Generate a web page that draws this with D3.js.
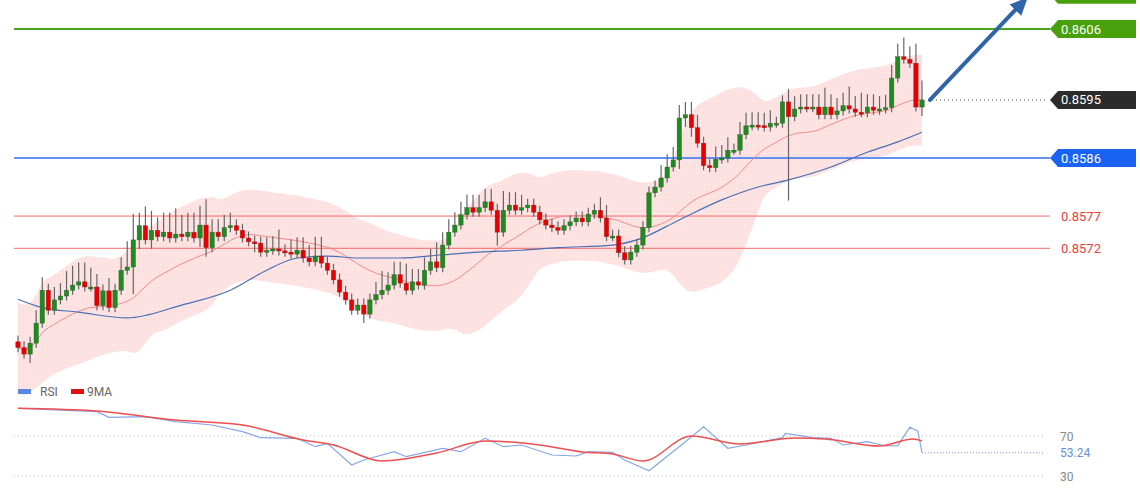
<!DOCTYPE html>
<html><head><meta charset="utf-8">
<script src="https://cdn.jsdelivr.net/npm/d3@7"></script>
<style>body{margin:0;background:#fff;font-family:Roboto,Arial,sans-serif}</style>
</head><body><svg id="c" width="1140" height="500"></svg>
<script>
const firstOpen = 0.85575;
const closes = [
.85566,.85556,.85573,.85604,.85655,.85624,.85640,.85646,.85655,.85663,
.85668,.85660,.85660,.85631,.85654,.85628,.85655,.85686,.85691,.85733,
.85755,.85733,.85748,.85738,.85745,.85736,.85742,.85738,.85745,.85736,
.85756,.85721,.85745,.85738,.85752,.85755,.85748,.85736,.85730,.85728,
.85714,.85717,.85719,.85716,.85714,.85711,.85717,.85705,.85699,.85708,
.85697,.85686,.85671,.85652,.85640,.85624,.85632,.85618,.85640,.85648,
.85655,.85663,.85679,.85666,.85655,.85668,.85663,.85686,.85699,.85690,
.85725,.85745,.85756,.85772,.85783,.85776,.85783,.85792,.85779,.85745,
.85779,.85787,.85779,.85783,.85787,.85776,.85764,.85756,.85752,.85748,
.85755,.85761,.85767,.85761,.85773,.85779,.85767,.85738,.85739,.85713,
.85702,.85714,.85725,.85752,.85806,.85815,.85829,.85846,.85857,.85922,
.85927,.85907,.85883,.85848,.85845,.85858,.85860,.85872,.85872,.85896,
.85910,.85911,.85910,.85908,.85914,.85914,.85947,.85924,.85936,.85939,
.85938,.85939,.85927,.85939,.85927,.85933,.85941,.85936,.85931,.85930,
.85939,.85934,.85936,.85938,.85984,.86017,.86013,.86007,.85939,.85950];
const wickUpPips = [
1,1,1,2,2,1,2,2,3,3, 3,3,3,2,1,2,1,2,4,4, 2,3,3,2,3,3,4,3,3,3, 3,4,2,2,2,2,1,1,1,1,
1,2,2,3,1,2,2,2,2,3, 3,1,1,1,1,1,1,1,1,2, 3,2,2,2,3,2,2,2,2,3, 2,2,2,2,2,2,2,2,2,1,
3,2,2,2,1,1,1,1,1,1, 1,1,1,1,1,1,2,2,1,1, 1,1,1,1,1,1,2,2,2,2, 2,2,2,1,1,2,2,2,1,2,
2,2,2,2,2,1,1,2,2,2, 2,2,2,3,2,2,2,3,2,3, 2,2,2,2,2,2,3,2,3,3];
const wickDnPips = [
1,1,2,1,1,1,1,1,1,1, 1,1,1,1,1,1,1,1,1,6, 2,1,2,1,1,1,1,1,1,1, 2,2,1,1,1,1,1,1,1,2,
1,1,1,1,1,1,1,1,1,1, 1,1,1,1,1,1,1,2,1,1, 1,1,1,1,1,1,1,1,1,1, 1,1,1,1,1,1,1,1,1,3,
1,1,1,1,1,1,1,1,1,1, 1,1,1,1,1,1,1,1,1,1, 1,1,1,1,1,1,1,1,1,2, 2,2,1,1,1,1,1,1,1,1,
1,1,1,1,1,1,1,13,1,1, 1,1,1,1,1,1,1,1,1,1, 1,1,1,1,1,1,1,1,1,2];
const slowMaIdx = [0,4,10,18,27,35,41,46,51,56,63,70,76,83,89,98,102,109,116,122,127,134,140,145,149];
const slowMaVal = [.85641,.85628,.85621,.85612,.85632,.85655,.85686,.85705,.85708,.85705,.85705,.85710,.85714,.85717,.85721,.85725,.85733,.85764,.85795,.85815,.85826,.85846,.85869,.85885,.85900];
const rsiIdx = [0,13,15,21,26,32,37,40,46,49,51,55,57,62,64,70,73,77,80,83,88,92,94,98,100,104,110,113,117,120,126,126.5,131,134,136,140,143,145,147,148.3,149];
const rsiVal = [97.7,94.3,88.7,89.3,84.3,81,74.3,68.3,67.7,59.3,62.7,41,46,54.3,49.3,57.7,54.3,67.7,59.3,61,51,50,54.3,53.7,46,35.3,64.3,79.3,57.7,61,68.3,72.7,68.3,67.7,61,64.3,60,60.3,78.7,75,53.24];
const maIdx = [0,13,26,37,47,52,60,69,77,86,93,98,103,111,119,128,133,142,147.5,149];
const maVal = [97.7,95,86,81,66,61,45,53,65,61,54,52,45,70,62,68,67,60,67,65];
const levels = [
 {v:0.86113, kind:'green', hidden:true},{v:0.8606, kind:'green'},{v:0.8595, kind:'current'},
 {v:0.8586, kind:'blue'},{v:0.8577, kind:'red'},{v:0.8572, kind:'red'}];
const rsiLevels = [70,30];

const svg = d3.select('#c');
const x = d3.scaleLinear().domain([0,149]).range([18,922]);
const y = d3.scaleLinear().domain([0.8606,0.8586]).range([29,158]);
const yr = d3.scaleLinear().domain([70,30]).range([436,476]);
const pip = 0.0001;

const candles = closes.map((c,i)=>{
  const o = i===0?firstOpen:closes[i-1];
  return {i,o,c,h:Math.max(o,c)+wickUpPips[i]*pip,l:Math.min(o,c)-wickDnPips[i]*pip*0.7};
});
candles[127].l = Math.min(candles[127].o,candles[127].c)-wickDnPips[127]*pip;
const bb = closes.map((c,i)=>{
  const w = closes.slice(Math.max(0,i-19), i+1);
  const m = d3.mean(w), sd = Math.max(d3.deviation(w)||0, 0.00035);
  return {i,m,u:m+2*sd,d:m-2*sd};
});

const defs = svg.append('defs');
const pat = defs.append('pattern').attr('id','dots').attr('width',4).attr('height',4).attr('patternUnits','userSpaceOnUse');
pat.append('rect').attr('width',4).attr('height',4).attr('fill','#fde0e0');
pat.append('circle').attr('cx',1).attr('cy',1).attr('r',0.6).attr('fill','#fff');

svg.append('path').datum(bb).attr('fill','url(#dots)')
  .attr('d',d3.area().x(d=>x(d.i)).y0(d=>y(d.d)).y1(d=>y(d.u)).curve(d3.curveBasis));

const lv = svg.append('g');
levels.forEach(L=>{
  const yy = y(L.v);
  if(L.kind==='current'){
    lv.append('line').attr('x1',x(149)+6).attr('x2',1048).attr('y1',yy).attr('y2',yy).attr('stroke','#555').attr('stroke-dasharray','1,3');
  } else if(!L.hidden){
    const col = {green:'#4aa31a',blue:'#4a80f0',red:'#f36a6a'}[L.kind];
    lv.append('line').attr('x1',14).attr('x2',1050).attr('y1',yy).attr('y2',yy).attr('stroke',col).attr('stroke-width',L.kind==='red'?1:2).attr('opacity',L.kind==='blue'?0.85:1);
  }
  const box = {green:'#48a10c',blue:'#1a63f2',current:'#2b2b2b'}[L.kind];
  if(box){
    lv.append('path').attr('fill',box)
      .attr('d',`M1050,${yy} L1058,${yy-9} L1136,${yy-9} L1136,${yy+9} L1058,${yy+9} Z`);
  }
  if(!L.hidden) lv.append('text').attr('x',1061).attr('y',yy+4.5).attr('font-size',13)
    .attr('fill',L.kind==='red'?'#f04040':'#fff').text(L.v.toFixed(4));
});

svg.append('path').datum(bb).attr('fill','none').attr('stroke','#f28b8b').attr('stroke-width',1)
  .attr('d',d3.line().x(d=>x(d.i)).y(d=>y(d.m)).curve(d3.curveBasis));
svg.append('path').datum(slowMaIdx.map((d,k)=>[d,slowMaVal[k]])).attr('fill','none').attr('stroke','#4a6fb5').attr('stroke-width',1.2)
  .attr('d',d3.line().x(d=>x(d[0])).y(d=>y(d[1])).curve(d3.curveMonotoneX));

const cg = svg.append('g');
candles.forEach(d=>{
  const up = d.c>=d.o;
  cg.append('line').attr('x1',x(d.i)).attr('x2',x(d.i)).attr('y1',y(d.h)).attr('y2',y(d.l)).attr('stroke','#666').attr('stroke-width',1.2);
  const top = y(Math.max(d.o,d.c)), bot = y(Math.min(d.o,d.c));
  cg.append('rect').attr('x',x(d.i)-2.2).attr('width',4.4).attr('y',top).attr('height',Math.max(2,bot-top))
    .attr('fill',up?'#1f8a1f':'#e60000').attr('stroke',up?'#2e5e2e':'#a02020').attr('stroke-width',0.4);
});

const ax1 = x(149)+8, ay1 = y(0.8595), ax2 = x(166), ay2 = y(0.86105);
svg.append('line').attr('x1',ax1).attr('y1',ay1).attr('x2',ax2-6).attr('y2',ay2+6).attr('stroke','#2f65a8').attr('stroke-width',4).attr('stroke-linecap','round');
const ang = Math.atan2(ay2-ay1, ax2-ax1);
const hp = [[ax2+4*Math.cos(ang),ay2+4*Math.sin(ang)],
  [ax2-14*Math.cos(ang)+8*Math.sin(ang), ay2-14*Math.sin(ang)-8*Math.cos(ang)],
  [ax2-14*Math.cos(ang)-8*Math.sin(ang), ay2-14*Math.sin(ang)+8*Math.cos(ang)]];
svg.append('path').attr('d','M'+hp.join('L')+'Z').attr('fill','#2f65a8');

const lg = svg.append('g').attr('font-size',12).attr('fill','#666');
lg.append('rect').attr('x',18).attr('y',389).attr('width',13).attr('height',5).attr('fill','#5b87e0');
lg.append('text').attr('x',40).attr('y',396).text('RSI');
lg.append('rect').attr('x',71).attr('y',389).attr('width',13).attr('height',5).attr('fill','#e01010');
lg.append('text').attr('x',87).attr('y',396).text('9MA');
rsiLevels.forEach(v=>{
  svg.append('line').attr('x1',14).attr('x2',1045).attr('y1',yr(v)).attr('y2',yr(v)).attr('stroke','#bbb').attr('stroke-dasharray','1,3');
  svg.append('text').attr('x',1060).attr('y',yr(v)+4.5).attr('font-size',12).attr('fill','#888').text(v);
});
const last = rsiVal[rsiVal.length-1];
svg.append('line').attr('x1',x(149)).attr('x2',1045).attr('y1',yr(last)).attr('y2',yr(last)).attr('stroke','#7b9be8').attr('stroke-dasharray','1,2');
svg.append('text').attr('x',1060).attr('y',yr(last)+4.5).attr('font-size',12).attr('fill','#6a8de0').text(last.toFixed(2));
svg.append('path').datum(rsiIdx.map((d,k)=>[d,rsiVal[k]])).attr('fill','none').attr('stroke','#86a6ea').attr('stroke-width',1.2)
  .attr('d',d3.line().x(d=>x(d[0])).y(d=>yr(d[1])));
svg.append('path').datum(maIdx.map((d,k)=>[d,maVal[k]])).attr('fill','none').attr('stroke','#ef4f4f').attr('stroke-width',1.5)
  .attr('d',d3.line().x(d=>x(d[0])).y(d=>yr(d[1])).curve(d3.curveMonotoneX));
</script></body></html>
